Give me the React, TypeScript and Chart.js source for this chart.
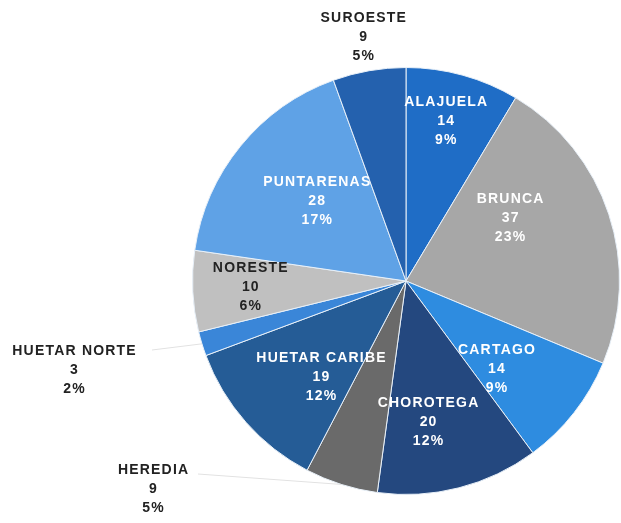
import React, { useEffect, useRef } from "react";
import { Chart, registerables } from "chart.js";

Chart.register(...registerables);

const regions = ["ALAJUELA", "BRUNCA", "CARTAGO", "CHOROTEGA", "HEREDIA", "HUETAR CARIBE", "HUETAR NORTE", "NORESTE", "PUNTARENAS", "SUROESTE"];
const counts = [14, 37, 14, 20, 9, 19, 3, 10, 28, 9];
const percentLabels = ["9%", "23%", "9%", "12%", "5%", "12%", "2%", "6%", "17%", "5%"];

const sliceColors = ["#1f6dc6", "#a7a7a7", "#2e8ce0", "#24487f", "#6a6a6a", "#255c96", "#3a86d8", "#c0c0c0", "#5fa2e6", "#2461ae"];
const labelColors = ["#ffffff", "#ffffff", "#ffffff", "#ffffff", "#222222", "#ffffff", "#222222", "#222222", "#ffffff", "#222222"];
// label placement: radius factor and angle offset (degrees) from slice mid-angle; outside labels use fixed side offsets
const labelLayout = [
  { r: 0.77, da: -1.5 },
  { r: 0.57, da: -13 },
  { r: 0.59, da: 6 },
  { r: 0.67, da: 5.5 },
  { out: true, dx: -253, dy: 208, line: true },
  { r: 0.6, da: -7 },
  { out: true, dx: -332, dy: 89, line: true },
  { r: 0.73, da: 0.5 },
  { r: 0.56, da: 2.5 },
  { r: 1.16, da: 0 },
];

const labelPlugin = {
  id: "sliceLabels",
  afterDatasetsDraw(chart: any) {
    const ctx = chart.ctx;
    const meta = chart.getDatasetMeta(0);
    ctx.save();
    ctx.font = "bold 14px 'Liberation Sans', Arial, sans-serif";
    ctx.textAlign = "center";
    ctx.textBaseline = "middle";
    const ls = 1.2;
    (ctx as any).letterSpacing = ls + "px";
    meta.data.forEach((arc: any, i: number) => {
      const { x, y, startAngle, endAngle, outerRadius } = arc.getProps(["x", "y", "startAngle", "endAngle", "outerRadius"], true);
      const mid = (startAngle + endAngle) / 2;
      const L = labelLayout[i];
      let lx: number, ly: number;
      if (L.out) {
        lx = x + L.dx;
        ly = y + L.dy;
        const ex = x + Math.cos(mid) * outerRadius;
        const ey = y + Math.sin(mid) * outerRadius;
        ctx.strokeStyle = "#e2e2e2";
        ctx.lineWidth = 1;
        ctx.beginPath();
        if (i === 4) {
          ctx.moveTo(lx + 45, ly - 15);
          ctx.lineTo(ex, ey);
        } else {
          ctx.moveTo(lx + 78, ly - 20);
          ctx.lineTo(ex, ey);
        }
        ctx.stroke();
      } else {
        const a = mid + (L.da * Math.PI) / 180;
        lx = x + Math.cos(a) * outerRadius * L.r;
        ly = y + Math.sin(a) * outerRadius * L.r;
      }
      ctx.fillStyle = labelColors[i];
      const lh = 19;
      const cx = lx + ls / 2;
      ctx.fillText(regions[i], cx, ly - lh);
      ctx.fillText(String(counts[i]), cx, ly);
      ctx.fillText(percentLabels[i], cx, ly + lh);
    });
    ctx.restore();
  },
};

export default function App() {
  const ref = useRef<HTMLCanvasElement>(null);
  useEffect(() => {
    if (!ref.current) return;
    const chart = new Chart(ref.current, {
      type: "pie",
      data: {
        labels: regions,
        datasets: [
          {
            data: counts,
            backgroundColor: sliceColors,
            borderColor: "#e8f0f8",
            borderWidth: 1,
          },
        ],
      },
      options: {
        responsive: false,
        animation: false,
        layout: { padding: { left: 192, right: 1, top: 67, bottom: 28 } },
        plugins: { legend: { display: false }, tooltip: { enabled: false } },
      },
      plugins: [labelPlugin],
    });
    return () => chart.destroy();
  }, []);
  return (
    <div style={{ position: "absolute", left: 0, top: 0, width: 621, height: 523, background: "#fff" }}>
      <canvas ref={ref} width={621} height={523} />
    </div>
  );
}
